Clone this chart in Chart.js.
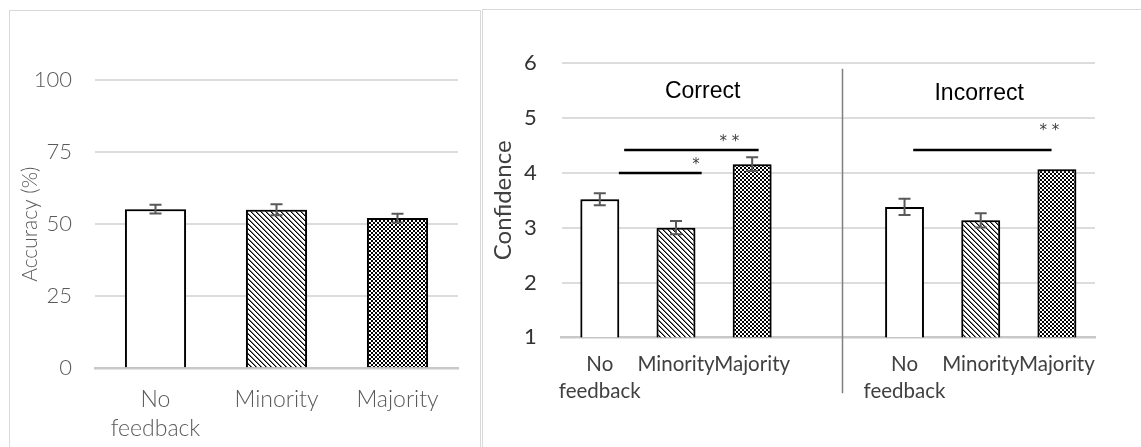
<!DOCTYPE html>
<html>
<head>
<meta charset="utf-8">
<title>Accuracy and confidence by feedback condition</title>
<script src="https://cdn.jsdelivr.net/npm/chart.js@4.4.1/dist/chart.umd.min.js"></script>
<style>
  html, body { margin: 0; padding: 0; background: #fff; width: 1141px; height: 447px; overflow: hidden; }
  .frame { position: absolute; box-sizing: border-box; border: 1px solid #d9d9d9; border-bottom: none; }
  #frameA { left: 9px; top: 10px; width: 472px; height: 440px; }
  #frameB { left: 482px; top: 9px; width: 670px; height: 440px; border-right: none; }
  canvas { position: absolute; }
  #accChart { left: 9px; top: 10px; }
  #confChart { left: 482px; top: 9px; }
</style>
</head>
<body>
<div class="frame" id="frameA"></div>
<div class="frame" id="frameB"></div>
<canvas id="accChart" width="471" height="437"></canvas>
<canvas id="confChart" width="659" height="438"></canvas>
<script>
// ---- data ----
const conditionLabels = [['No', 'feedback'], 'Minority', 'Majority'];
const accuracyMean = [55.2, 55.0, 52.1];
const accuracyErr = [1.5, 1.9, 1.5];
const accuracyTicks = [0, 25, 50, 75, 100];

const confCorrect = [3.52, 3.0, 4.16];
const confCorrectErr = [0.11, 0.12, 0.125];
const confIncorrect = [3.38, 3.135, 4.066];
const confIncorrectErr = [0.15, 0.13, 0];
const confidenceTicks = [1, 2, 3, 4, 5, 6];
const groupNames = ['Correct', 'Incorrect'];
const sigMarks = ['**', '*', '**'];

// ---- fill patterns ----
const scratch = document.createElement('canvas').getContext('2d');
function tile(size, inkAt) {
  const c = document.createElement('canvas');
  c.width = size; c.height = size;
  const g = c.getContext('2d');
  g.fillStyle = '#fff'; g.fillRect(0, 0, size, size);
  for (let y = 0; y < size; y++)
    for (let x = 0; x < size; x++) {
      const ink = inkAt(x, y);
      if (ink) { g.fillStyle = ink; g.fillRect(x, y, 1, 1); }
    }
  return scratch.createPattern(c, 'repeat');
}
// downward diagonal hatch
const stripes = tile(5, (x, y) => {
  const k = (((x - y) % 5) + 5) % 5;
  return k === 0 ? '#000' : (k === 1 ? '#7a7a7a' : null);
});
// fine checkerboard
const checker = tile(4, (x, y) => (((x >> 1) + (y >> 1)) % 2 === 0 ? '#000' : null));
const fills3 = ['#ffffff', stripes, checker];

// ---- shared plugins ----
const barShadow = {
  id: 'barShadow',
  beforeDatasetDraw(chart) {
    const ctx = chart.ctx;
    ctx.save();
    ctx.shadowColor = 'rgba(0,0,0,0.5)';
    ctx.shadowBlur = 6;
    ctx.shadowOffsetX = 0;
    ctx.shadowOffsetY = 0;
  },
  afterDatasetDraw(chart) { chart.ctx.restore(); }
};

function errorBarPlugin(errors) {
  return {
    id: 'errorBars',
    afterDatasetsDraw(chart) {
      const ctx = chart.ctx, ys = chart.scales.y;
      const meta = chart.getDatasetMeta(0);
      const vals = chart.data.datasets[0].data;
      ctx.save();
      ctx.strokeStyle = '#595959';
      ctx.lineWidth = 2;
      meta.data.forEach((bar, i) => {
        const e = errors[i], v = vals[i];
        if (v == null || !e) return;
        const yt = ys.getPixelForValue(v + e), yb = ys.getPixelForValue(v - e);
        ctx.beginPath();
        ctx.moveTo(bar.x, yt); ctx.lineTo(bar.x, yb);
        ctx.moveTo(bar.x - 6, yt); ctx.lineTo(bar.x + 6, yt);
        ctx.moveTo(bar.x - 6, yb); ctx.lineTo(bar.x + 6, yb);
        ctx.stroke();
      });
      ctx.restore();
    }
  };
}

const uiFont = (size, weight, lh) => ({ family: "'Lato', 'Open Sans', sans-serif", size: size, weight: weight, lineHeight: lh || 1.2 });

// ---- left: accuracy ----
new Chart(document.getElementById('accChart'), {
  type: 'bar',
  data: {
    labels: conditionLabels,
    datasets: [{
      data: accuracyMean,
      backgroundColor: fills3,
      borderColor: '#000',
      borderWidth: 2,
      barPercentage: 0.505,
      categoryPercentage: 1
    }]
  },
  options: {
    responsive: false,
    animation: false,
    layout: { padding: { top: 70, right: 22, left: 0, bottom: 0 } },
    plugins: { legend: { display: false }, tooltip: { enabled: false } },
    scales: {
      x: {
        grid: { display: false },
        border: { display: true, color: '#c8c8c8', width: 2.5 },
        ticks: { color: '#595959', font: uiFont(23, 300, 28.7 / 23), padding: 9, autoSkip: false, maxRotation: 0 },
        afterFit(s) { s.height = 78.7; }
      },
      y: {
        min: 0, max: 100,
        afterBuildTicks(s) { s.ticks = accuracyTicks.map(v => ({ value: v })); },
        grid: { color: '#dcdcdc', lineWidth: 2, drawTicks: false },
        border: { display: false },
        ticks: { color: '#595959', font: uiFont(22, 300), padding: 23 },
        title: { display: true, text: 'Accuracy (%)', color: '#595959', font: uiFont(21, 300), padding: { top: 9, bottom: 0 } },
        afterFit(s) { s.width = 86; }
      }
    }
  },
  plugins: [barShadow, errorBarPlugin(accuracyErr)]
});

// ---- right: confidence, correct vs incorrect ----
const confLabels = [...conditionLabels, '', ...conditionLabels];
const confValues = [...confCorrect, null, ...confIncorrect];
const confErrors = [...confCorrectErr, 0, ...confIncorrectErr];
const confFills = [...fills3, '#fff', ...fills3];

// annotation layout in axis units (category index, confidence value)
const annotationLayout = {
  groupTitles: [{ x: 1.35, y: 5.48 }, { x: 4.98, y: 5.44 }],
  divider: { x: 3.18, yTop: 5.9, below: 56 },
  brackets: [
    { x1: 0.32, x2: 2.085, y: 4.42, markX: 1.70, markY: 4.56 },
    { x1: 0.25, x2: 1.337, y: 4.0, markX: 1.262, markY: 4.14 },
    { x1: 4.114, x2: 5.93, y: 4.42, markX: 5.9, markY: 4.76 }
  ]
};

const confAnnotations = {
  id: 'confAnnotations',
  afterDraw(chart) {
    const ctx = chart.ctx, xs = chart.scales.x, ys = chart.scales.y;
    const p0 = xs.getPixelForValue(0), step = xs.getPixelForValue(1) - p0;
    const px = i => p0 + i * step;
    ctx.save();
    // divider between the two groups
    const d = annotationLayout.divider;
    ctx.strokeStyle = '#7f7f7f';
    ctx.lineWidth = 1.5;
    ctx.beginPath();
    ctx.moveTo(Math.round(px(d.x)) + 0.5, ys.getPixelForValue(d.yTop));
    ctx.lineTo(Math.round(px(d.x)) + 0.5, ys.getPixelForValue(1) + d.below);
    ctx.stroke();
    // group titles
    ctx.fillStyle = '#000';
    ctx.font = "23px 'Liberation Sans', Arial, sans-serif";
    ctx.textAlign = 'center';
    ctx.textBaseline = 'middle';
    annotationLayout.groupTitles.forEach((g, i) => {
      ctx.fillText(groupNames[i], px(g.x), ys.getPixelForValue(g.y));
    });
    // significance brackets
    ctx.strokeStyle = '#000';
    ctx.lineWidth = 2.5;
    ctx.fillStyle = '#404040';
    ctx.font = "15px 'DejaVu Sans', sans-serif";
    annotationLayout.brackets.forEach((b, i) => {
      const y = ys.getPixelForValue(b.y);
      ctx.beginPath();
      ctx.moveTo(px(b.x1), y); ctx.lineTo(px(b.x2), y);
      ctx.stroke();
      ctx.fillText(sigMarks[i].split('').join(' '), px(b.markX), ys.getPixelForValue(b.markY));
    });
    ctx.restore();
  }
};

new Chart(document.getElementById('confChart'), {
  type: 'bar',
  data: {
    labels: confLabels,
    datasets: [{
      data: confValues,
      backgroundColor: confFills,
      borderColor: '#000',
      borderWidth: 2,
      barPercentage: 0.51,
      categoryPercentage: 1
    }]
  },
  options: {
    responsive: false,
    animation: false,
    layout: { padding: { top: 54.3, right: 46, left: 0, bottom: 0 } },
    plugins: { legend: { display: false }, tooltip: { enabled: false } },
    scales: {
      x: {
        grid: { display: false },
        border: { display: true, color: '#c8c8c8', width: 2.5 },
        ticks: { color: '#404040', font: uiFont(20.5, 400, 26.7 / 20.5), padding: 6, autoSkip: false, maxRotation: 0 },
        afterFit(s) { s.height = 109.7; }
      },
      y: {
        min: 1, max: 6,
        afterBuildTicks(s) { s.ticks = confidenceTicks.map(v => ({ value: v })); },
        grid: { color: '#dcdcdc', lineWidth: 2, drawTicks: false },
        border: { display: false },
        ticks: { color: '#333333', font: uiFont(22, 400), padding: 25 },
        title: { display: true, text: 'Confidence', color: '#404040', font: uiFont(24, 400), padding: { top: 7, bottom: 0 } },
        afterFit(s) { s.width = 79.7; }
      }
    }
  },
  plugins: [barShadow, errorBarPlugin(confErrors), confAnnotations]
});
</script>
</body>
</html>
